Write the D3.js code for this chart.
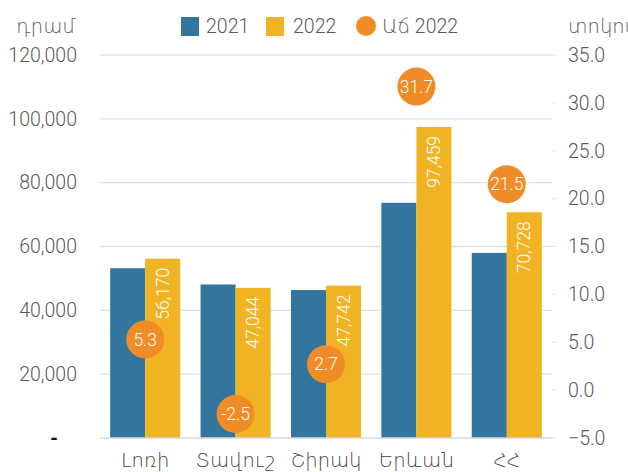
<!DOCTYPE html>
<html><head><meta charset="utf-8">
<script src="https://cdn.jsdelivr.net/npm/d3@7"></script>
<style>body{margin:0;background:#fff;} svg{display:block;font-family:Roboto,"Noto Sans","DejaVu Sans",sans-serif;font-weight:300;}</style>
</head><body><svg id="c" width="628" height="472"></svg>
<script>
const categories = ["Լոռի","Տավուշ","Շիրակ","Երևան","ՀՀ"];
const values2021 = [53200, 48100, 46350, 73700, 58000];
const values2022 = [56170, 47044, 47742, 97459, 70728];
const growth2022 = [5.3, -2.5, 2.7, 31.7, 21.5];
const leftTicks = [0, 20000, 40000, 60000, 80000, 100000, 120000];
const rightTicks = [-5, 0, 5, 10, 15, 20, 25, 30, 35];
const seriesNames = ["2021", "2022", "Աճ 2022"];
const colors = {"2021":"#3276a0","2022":"#f0b323","growth":"#f08c28"};

const svg = d3.select("#c");
const L = 100, R = 552, T = 55, B = 438;
const x = d3.scaleBand().domain(categories).range([L, R]).paddingInner(0.225).paddingOuter(0.1125);
const xs = d3.scaleBand().domain(["2021","2022"]).range([0, x.bandwidth()]);
const yL = d3.scaleLinear().domain([0, 120000]).range([B, T]);
const yR = d3.scaleLinear().domain([-5, 35]).range([B, T]);
const fmt = d3.format(",");
const FS = 19.5;

// gridlines
svg.append("g").selectAll("line").data(leftTicks.slice(1)).join("line")
  .attr("x1", L).attr("x2", R).attr("y1", d => yL(d)).attr("y2", d => yL(d))
  .attr("stroke", "#e0e0e0").attr("stroke-width", 1.3);

// left axis labels
svg.append("g").selectAll("text").data(leftTicks).join("text")
  .attr("x", d => d === 0 ? 54 : 77).attr("y", d => yL(d)).attr("dy", "0.35em")
  .attr("text-anchor", d => d === 0 ? "middle" : "end")
  .attr("font-size", FS).attr("fill", d => d === 0 ? "#111" : "#595959")
  .attr("font-weight", d => d === 0 ? 700 : 300)
  .text(d => d === 0 ? "-" : fmt(d));

// right axis ticks + labels
svg.append("g").selectAll("line").data(rightTicks).join("line")
  .attr("x1", 552).attr("x2", 556).attr("y1", d => yR(d)).attr("y2", d => yR(d))
  .attr("stroke", "#e0e0e0").attr("stroke-width", 1);
svg.append("g").selectAll("text").data(rightTicks).join("text")
  .attr("x", 568).attr("y", d => yR(d)).attr("dy", "0.35em")
  .attr("font-size", FS).attr("fill", "#595959")
  .text(d => d3.format(".1f")(d));

// bars
const g = svg.append("g");
categories.forEach((c, i) => {
  g.append("rect").attr("x", x(c) + xs("2021")).attr("width", xs.bandwidth())
    .attr("y", yL(values2021[i])).attr("height", B - yL(values2021[i])).attr("fill", colors["2021"]);
  g.append("rect").attr("x", x(c) + xs("2022")).attr("width", xs.bandwidth())
    .attr("y", yL(values2022[i])).attr("height", B - yL(values2022[i])).attr("fill", colors["2022"]);
  const cx = x(c) + xs("2022") + xs.bandwidth() / 2, ty = yL(values2022[i]) + 9;
  g.append("text").attr("transform", `translate(${cx},${ty}) rotate(-90)`)
    .attr("text-anchor", "end").attr("dy", "0.35em").attr("font-size", 17.5).attr("fill", "#fff")
    .text(fmt(values2022[i]));
});

// baseline
svg.append("line").attr("x1", L).attr("x2", R).attr("y1", B).attr("y2", B)
  .attr("stroke", "#d9d9d9").attr("stroke-width", 1.5);

// growth circles
categories.forEach((c, i) => {
  const cx = x(c) + x.bandwidth() / 2, cy = yR(growth2022[i]);
  svg.append("circle").attr("cx", cx).attr("cy", cy).attr("r", 19).attr("fill", colors.growth);
  svg.append("text").attr("x", cx).attr("y", cy).attr("dy", "0.35em").attr("text-anchor", "middle")
    .attr("font-size", 17.5).attr("fill", "#fff").text(growth2022[i].toFixed(1));
});

// category labels
svg.append("g").selectAll("text").data(categories).join("text")
  .attr("x", d => x(d) + x.bandwidth() / 2).attr("y", 460).attr("dy", "0.35em")
  .attr("text-anchor", "middle").attr("font-size", FS).attr("fill", "#404040").text(d => d);

// axis titles
svg.append("text").attr("x", 76).attr("y", 26).attr("dy", "0.35em").attr("text-anchor", "end")
  .attr("font-size", FS).attr("fill", "#595959").text("դրամ");
svg.append("text").attr("x", 568).attr("y", 26).attr("dy", "0.35em")
  .attr("font-size", FS).attr("fill", "#595959").text("տոկոս");

// legend
const lg = svg.append("g");
lg.append("rect").attr("x", 181).attr("y", 17).attr("width", 18).attr("height", 19).attr("fill", colors["2021"]);
lg.append("text").attr("x", 206).attr("y", 26).attr("dy", "0.35em").attr("font-size", FS).attr("fill", "#595959").text(seriesNames[0]);
lg.append("rect").attr("x", 266).attr("y", 17).attr("width", 18).attr("height", 19).attr("fill", colors["2022"]);
lg.append("text").attr("x", 293).attr("y", 26).attr("dy", "0.35em").attr("font-size", FS).attr("fill", "#595959").text(seriesNames[1]);
lg.append("circle").attr("cx", 366).attr("cy", 26).attr("r", 10).attr("fill", colors.growth);
lg.append("text").attr("x", 382).attr("y", 26).attr("dy", "0.35em").attr("font-size", FS).attr("fill", "#595959").text(seriesNames[2]);
</script></body></html>
